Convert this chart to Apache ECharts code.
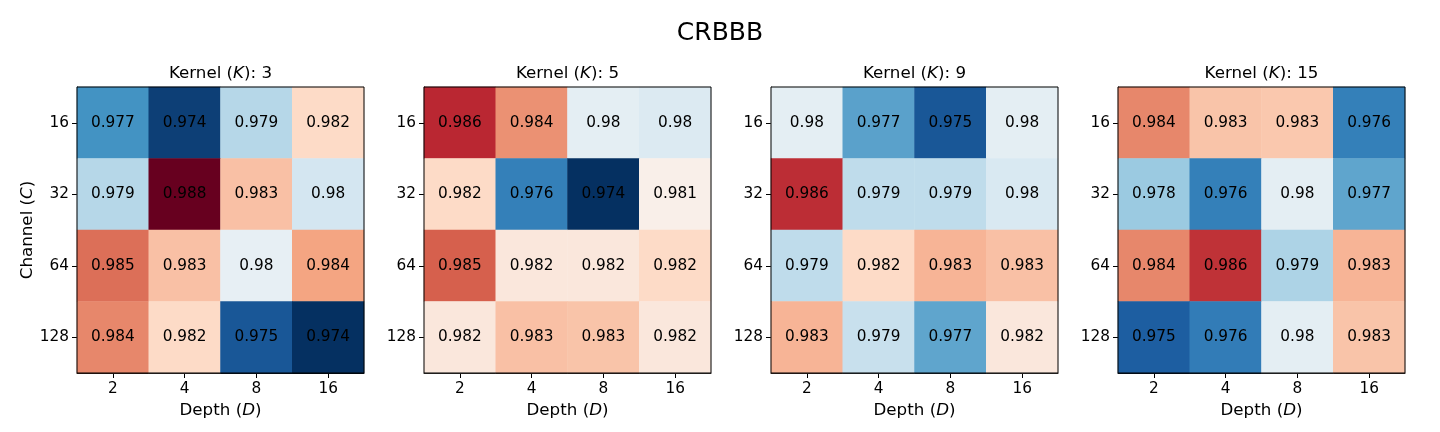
<!DOCTYPE html>
<html>
<head>
<meta charset="utf-8">
<title>CRBBB</title>
<script src="https://cdn.jsdelivr.net/npm/echarts@6/dist/echarts.min.js"></script>
<style>
  html, body { margin: 0; padding: 0; background: #fff; }
  #main { width: 1440px; height: 432px; }
</style>
</head>
<body>
<div id="main"></div>
<script>
// axes
var depths = ['2', '4', '8', '16'];
var channels = ['16', '32', '64', '128'];
var kernels = [3, 5, 9, 15];

// rows = channel (16..128), cols = depth (2..16)
// 4th decimal guessed from the cell colour
var accK3 = [
    [0.9768, 0.9744, 0.9790, 0.9824],
    [0.9790, 0.9880, 0.9831, 0.9797],
    [0.9849, 0.9831, 0.9804, 0.9838],
    [0.9844, 0.9824, 0.9750, 0.9740]
];
var accK5 = [
    [0.9863, 0.9842, 0.9803, 0.9800],
    [0.9824, 0.9762, 0.9740, 0.9814],
    [0.9852, 0.9818, 0.9818, 0.9824],
    [0.9818, 0.9831, 0.9830, 0.9818]
];
var accK9 = [
    [0.9803, 0.9772, 0.9750, 0.9803],
    [0.9862, 0.9792, 0.9792, 0.9799],
    [0.9792, 0.9824, 0.9834, 0.9831],
    [0.9834, 0.9794, 0.9773, 0.9818]
];
var accK15 = [
    [0.9844, 0.9830, 0.9829, 0.9762],
    [0.9784, 0.9762, 0.9803, 0.9773],
    [0.9844, 0.9861, 0.9788, 0.9834],
    [0.9752, 0.9761, 0.9803, 0.9830]
];
var panels = [accK3, accK5, accK9, accK15];

// RdBu_r
var rdbu_r = ['#053061', '#2166ac', '#4393c3', '#92c5de', '#d1e5f0', '#f7f7f7',
    '#fddbc7', '#f4a582', '#d6604d', '#b2182b', '#67001f'];

var chart = echarts.init(document.getElementById('main'));

var lefts = [77, 424, 771, 1118];
var W = 287, H = 286, TOP = 87;
var FONT = 'DejaVu Sans';

var italic = { fontStyle: 'italic', fontFamily: FONT };

var titles = [{
    text: 'CRBBB',
    left: 720,
    top: 33,
    padding: 0,
    textAlign: 'center',
    textVerticalAlign: 'middle',
    textStyle: { fontSize: 25, fontWeight: 'normal', color: '#000', fontFamily: FONT }
}];
var grids = [], xAxes = [], yAxes = [], series = [];

panels.forEach(function (mat, p) {
    titles.push({
        text: 'Kernel ({i|K}): ' + kernels[p],
        left: lefts[p] + W / 2,
        top: 74,
        padding: 0,
        textAlign: 'center',
        textVerticalAlign: 'middle',
        textStyle: {
            fontSize: 16.7, fontWeight: 'normal', color: '#000', fontFamily: FONT,
            rich: { i: Object.assign({ fontSize: 16.7, color: '#000' }, italic) }
        }
    });
    grids.push({
        left: lefts[p], top: TOP, width: W, height: H,
        show: true, borderColor: '#000', borderWidth: 1,
        backgroundColor: 'transparent', z: 10
    });
    xAxes.push({
        type: 'category', gridIndex: p, data: depths,
        axisLine: { show: true, lineStyle: { color: '#000', width: 1 } },
        axisTick: { show: true, alignWithLabel: true, length: 5, lineStyle: { color: '#000' } },
        axisLabel: { color: '#000', fontSize: 15.3, margin: 9, fontFamily: FONT },
        splitLine: { show: false },
        name: 'Depth ({i|D})',
        nameLocation: 'middle',
        nameGap: 26,
        nameTextStyle: {
            color: '#000', fontSize: 16.7, fontFamily: FONT,
            rich: { i: Object.assign({ fontSize: 16.7, color: '#000' }, italic) }
        }
    });
    var ya = {
        type: 'category', gridIndex: p, data: channels, inverse: true,
        axisLine: { show: true, lineStyle: { color: '#000', width: 1 } },
        axisTick: { show: true, alignWithLabel: true, length: 5, lineStyle: { color: '#000' } },
        axisLabel: { color: '#000', fontSize: 15.3, margin: 8, fontFamily: FONT },
        splitLine: { show: false }
    };
    if (p === 0) {
        ya.name = 'Channel ({i|C})';
        ya.nameLocation = 'middle';
        ya.nameRotate = 90;
        ya.nameGap = 38;
        ya.nameTextStyle = {
            color: '#000', fontSize: 16.7, fontFamily: FONT,
            rich: { i: Object.assign({ fontSize: 16.7, color: '#000' }, italic) }
        };
    }
    yAxes.push(ya);

    var data = [];
    mat.forEach(function (row, r) {
        row.forEach(function (v, c) {
            data.push([c, r, v]);
        });
    });
    series.push({
        type: 'heatmap',
        xAxisIndex: p, yAxisIndex: p,
        data: data,
        label: {
            show: true, color: '#000', fontSize: 15.3, fontFamily: FONT,
            formatter: function (d) { return String(parseFloat(d.value[2].toFixed(3))); }
        },
        emphasis: { disabled: true },
        progressive: 0
    });
});

var option = {
    animation: false,
    backgroundColor: '#fff',
    textStyle: { fontFamily: FONT },
    title: titles,
    grid: grids,
    xAxis: xAxes,
    yAxis: yAxes,
    visualMap: {
        type: 'continuous',
        show: false,
        min: 0.974,
        max: 0.988,
        dimension: 2,
        seriesIndex: [0, 1, 2, 3],
        inRange: { color: rdbu_r }
    },
    series: series
};
chart.setOption(option);
</script>
</body>
</html>
